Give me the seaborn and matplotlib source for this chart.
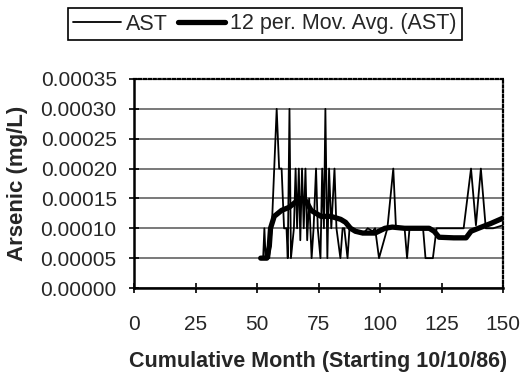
#!/usr/bin/env python3
# Arsenic time series with 12 period moving average

import pandas as pd
import matplotlib.pyplot as plt
import seaborn as sns

# ============================================================================
# DATA (values in mg/L)
# ============================================================================
ast_month = [51.5, 52.5, 53, 53.5, 55, 56, 57, 58, 59, 60, 61, 62, 62.5,
             63.2, 63.8, 65, 65.7, 66.3, 67, 67.6, 68.3, 69, 69.7, 70.4,
             71.2, 72.2, 73, 74, 74.7, 75.8, 76.5, 77.2, 77.8, 78.6, 79.3,
             80.2, 81.5, 82.3, 83.9, 84.8, 85.5, 86.8, 87.6, 89, 91, 93, 95,
             97, 98, 99.6, 103, 105.4, 106.5, 108, 110, 111, 112, 115, 117.5,
             118.5, 121.5, 123, 126, 130, 134, 137, 139, 141, 143, 146, 150]
ast_value = [0.00005, 0.00005, 0.00010, 0.00005, 0.00005, 0.00010, 0.00020,
             0.00030, 0.00020, 0.00020, 0.00010, 0.00010, 0.00005, 0.00030,
             0.00005, 0.00010, 0.00020, 0.00010, 0.00020, 0.00008, 0.00020,
             0.00010, 0.00020, 0.00008, 0.00015, 0.00005, 0.00010, 0.00020,
             0.00010, 0.00005, 0.00020, 0.00010, 0.00030, 0.00005, 0.00020,
             0.00010, 0.00020, 0.00010, 0.00005, 0.00010, 0.00010, 0.00005,
             0.00010, 0.00010, 0.000095, 0.00009, 0.00010, 0.000095, 0.00010,
             0.00005, 0.00010, 0.00020, 0.00010, 0.00010, 0.00010, 0.00005,
             0.00010, 0.00010, 0.00010, 0.00005, 0.00005, 0.00010, 0.00010,
             0.00010, 0.00010, 0.00020, 0.000105, 0.00020, 0.00010, 0.00010,
             0.000105]

ma_month = [51.5, 54, 55, 55.5, 57, 60, 63, 66, 68, 70, 72, 74, 76, 80, 84,
            86, 88, 90, 93, 98, 102, 105, 110, 115, 120, 122, 124, 130, 135,
            137, 140, 145, 150]
ma_value = [0.00005, 0.00005, 0.00007, 0.00010, 0.00012, 0.00013, 0.000135,
            0.000145, 0.00015, 0.000145, 0.00013, 0.000125, 0.00012, 0.00012,
            0.000115, 0.00011, 0.00010, 0.000095, 0.000092, 0.000092, 0.00010,
            0.000102, 0.00010, 0.00010, 0.00010, 0.000095, 0.000085, 0.000084,
            0.000084, 0.000095, 0.00010, 0.000108, 0.000117]

x_ticks = [0, 25, 50, 75, 100, 125, 150]
y_ticks = [0.0, 0.00005, 0.0001, 0.00015, 0.0002, 0.00025, 0.0003, 0.00035]

ast_df = pd.DataFrame({"month": ast_month, "value": ast_value})
ma_df = pd.DataFrame({"month": ma_month, "value": ma_value})

# ============================================================================
# THEME SETTINGS
# ============================================================================
sns.set_style("white")
plt.rcParams['font.family'] = ['Liberation Sans', 'DejaVu Sans']

# ============================================================================
# CREATE PLOT
# ============================================================================
fig = plt.figure(figsize=(5.22, 3.77), dpi=100)
ax = fig.add_axes([134 / 522, 1 - 288 / 377, 369 / 522, 209 / 377])

sns.lineplot(data=ast_df, x="month", y="value", color="black",
             linewidth=1.3, ax=ax, label="AST")
sns.lineplot(data=ma_df, x="month", y="value", color="black",
             linewidth=3.8, ax=ax, label="12 per. Mov. Avg. (AST)")

ax.set_xlim(0, 150)
ax.set_ylim(0, 0.00035)
ax.set_xticks(x_ticks)
ax.set_yticks(y_ticks)
ax.set_yticklabels([f"{v:.5f}" for v in y_ticks])
ax.tick_params(axis='both', labelsize=15, direction='inout', length=7,
               width=1.2, color='black', left=True, bottom=True)
ax.tick_params(axis='y', pad=9)
ax.tick_params(axis='x', pad=16)
ax.yaxis.grid(True, color='#555555', linewidth=1.1)
ax.xaxis.grid(False)

for side in ['top', 'right']:
    ax.spines[side].set_linestyle((0, (1, 1.2)))
    ax.spines[side].set_linewidth(1.6)
    ax.spines[side].set_color('black')
for side in ['left', 'bottom']:
    ax.spines[side].set_linewidth(1.8)
    ax.spines[side].set_color('black')

ax.set_xlabel("Cumulative Month (Starting 10/10/86)", fontsize=15.5,
              fontweight='bold', labelpad=12)
ax.set_ylabel("Arsenic (mg/L)", fontsize=16, fontweight='bold', labelpad=9)

handles, labels = ax.get_legend_handles_labels()
ax.get_legend().remove()
leg = fig.legend(handles, labels, loc='center', ncol=2,
                 bbox_to_anchor=(265 / 522, 1 - 24 / 377), fontsize=15.5,
                 frameon=True, fancybox=False, edgecolor='black',
                 framealpha=1, handlelength=2.2, handletextpad=0.25,
                 columnspacing=0.45, borderpad=0.25)
leg.get_frame().set_linewidth(1.2)

# ============================================================================
# SAVE OUTPUT
# ============================================================================
fig.savefig("out.png", dpi=100)
plt.close(fig)
